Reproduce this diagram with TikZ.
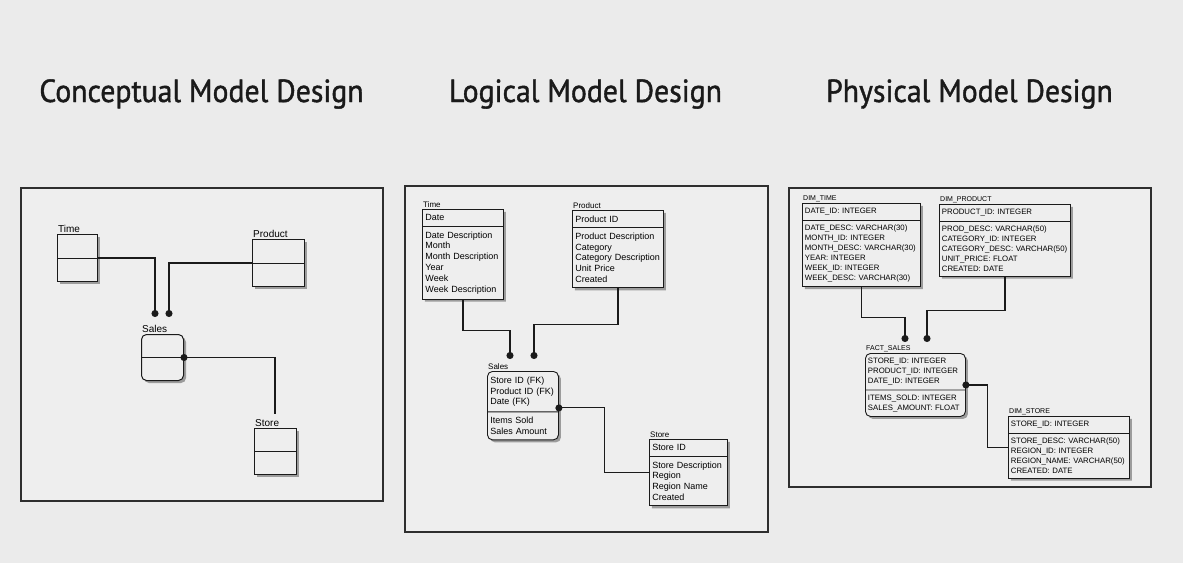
\documentclass[tikz,border=0pt]{standalone}
\usepackage{fontspec}
\setmainfont{Liberation Sans}
\newfontfamily\titlefont[FakeStretch=0.93,FakeBold=1.2]{PT Sans}
\usetikzlibrary{arrows.meta,calc,positioning,shapes.multipart,shadows}
\definecolor{pagegray}{HTML}{EBEBEB}
\definecolor{panelgray}{HTML}{EEEEEE}
\definecolor{framegray}{HTML}{2E2E2E}
\definecolor{shadowgray}{HTML}{9C9C9C}
\definecolor{inkblack}{HTML}{1A1A1A}
\tikzset{
  paneltitle/.style={font=\titlefont\fontsize{32}{34}\selectfont,text=inkblack,anchor=base},
  panel/.style={draw=framegray,line width=1.3pt,fill=panelgray},
  boxshadow/.style={drop shadow={shadow xshift=2.5pt,shadow yshift=-2.5pt,fill=shadowgray,opacity=1}},
  cbox/.style={draw=inkblack,line width=1pt,fill=panelgray,anchor=north west,inner sep=0pt,
    minimum width=40pt,minimum height=47pt,boxshadow},
  lbox/.style={rectangle split,rectangle split parts=2,draw=inkblack,line width=0.9pt,fill=panelgray,
    anchor=north west,align=left,inner xsep=3pt,inner ysep=4.8pt,
    font=\fontsize{9}{10.8}\selectfont,boxshadow},
  pbox/.style={lbox,inner xsep=2.5pt,inner ysep=4.3pt,font=\fontsize{7.8}{10}\selectfont},
  clabel/.style={anchor=south west,inner sep=1pt,font=\fontsize{10}{12}\selectfont},
  llabel/.style={anchor=south west,inner sep=1pt,font=\fontsize{8}{10}\selectfont},
  plabel/.style={anchor=south west,inner sep=1pt,font=\fontsize{7}{9}\selectfont},
  link/.style={draw=inkblack,line width=1.1pt},
  dotend/.style={link,-{Circle[length=7pt]}},
  dotstart/.style={link,{Circle[length=7pt]}-,shorten <=-3.5pt}
}
\begin{document}
\begin{tikzpicture}[x=1pt,y=-1pt]
\fill[pagegray] (0,0) rectangle (1183,563);
\useasboundingbox (0,0) rectangle (1183,563);

% headings
\node[paneltitle] (tconc) at (201.5,102) {Conceptual Model Design};
\node[paneltitle] (tlog) at (585.5,102) {Logical Model Design};
\node[paneltitle] (tphys) at (969.5,102) {Physical Model Design};

% frames
\draw[panel] (21,188) rectangle (383,501);
\draw[panel] (405,186) rectangle (768,532);
\draw[panel] (789,188) rectangle (1151,487);

% conceptual
\node[cbox,label={[clabel]north west:Time}] (ctime) at (57,234) {};
\node[cbox,minimum width=52pt,label={[clabel]north west:Product}] (cprod) at (252,239) {};
\node[cbox,rounded corners=5pt,minimum width=42pt,minimum height=46pt,label={[clabel]north west:Sales}] (csales) at (141,334) {};
\node[cbox,minimum width=42pt,minimum height=46pt,label={[clabel]north west:Store}] (cstore) at (254,428) {};
\foreach \e in {ctime,cprod,csales,cstore}
  \draw[link,line width=1pt] (\e.west) -- (\e.east);
\coordinate (cjt) at (155,317);
\coordinate (cjp) at (169,317);
\coordinate (cjs) at (275,414);
\draw[dotend] (ctime.east) -| (cjt);
\draw[dotend] (cprod.west) -| (cjp);
\draw[dotstart] (csales.east) -| (cjs);

% logical
\node[lbox,text width=75pt,label={[llabel]north west:Time}] (ltime) at (422,209)
  {Date\nodepart{two}Date Description\\Month\\Month Description\\Year\\Week\\Week Description};
\node[lbox,text width=85pt,label={[llabel]north west:Product}] (lprod) at (572,210)
  {Product ID\nodepart{two}Product Description\\Category\\Category Description\\Unit Price\\Created};
\node[lbox,text width=65pt,rounded corners=5pt,label={[llabel]north west:Sales}] (lsales) at (487,371)
  {Store ID (FK)\\Product ID (FK)\\Date (FK)\nodepart{two}Items Sold\\Sales Amount};
\node[lbox,text width=72pt,label={[llabel]north west:Store}] (lstore) at (649,439)
  {Store ID\nodepart{two}Store Description\\Region\\Region Name\\Created};
\coordinate (ljt) at (510,359);
\coordinate (ljp) at (534,359);
\draw[dotend] (ltime.south) -- ++(0,31) -| (ljt);
\draw[dotend] (lprod.south) -- ++(0,36) -| (ljp);
\draw[dotstart] ([yshift=4pt]lsales.text split east) -- ++(46,0) |- (lstore.west);

% physical
\node[pbox,text width=113pt,label={[plabel]north west:DIM\_TIME}] (ptime) at (802,203)
  {DATE\_ID: INTEGER\nodepart{two}DATE\_DESC: VARCHAR(30)\\MONTH\_ID: INTEGER\\MONTH\_DESC: VARCHAR(30)\\YEAR: INTEGER\\WEEK\_ID: INTEGER\\WEEK\_DESC: VARCHAR(30)};
\node[pbox,text width=126pt,label={[plabel]north west:DIM\_PRODUCT}] (pprod) at (939,204)
  {PRODUCT\_ID: INTEGER\nodepart{two}PROD\_DESC: VARCHAR(50)\\CATEGORY\_ID: INTEGER\\CATEGORY\_DESC: VARCHAR(50)\\UNIT\_PRICE: FLOAT\\CREATED: DATE};
\node[pbox,text width=95pt,rounded corners=5pt,label={[plabel]north west:FACT\_SALES}] (psales) at (865,353)
  {STORE\_ID: INTEGER\\PRODUCT\_ID: INTEGER\\DATE\_ID: INTEGER\nodepart{two}ITEMS\_SOLD: INTEGER\\SALES\_AMOUNT: FLOAT};
\node[pbox,text width=116pt,label={[plabel]north west:DIM\_STORE}] (pstore) at (1008,416)
  {STORE\_ID: INTEGER\nodepart{two}STORE\_DESC: VARCHAR(50)\\REGION\_ID: INTEGER\\REGION\_NAME: VARCHAR(50)\\CREATED: DATE};
\coordinate (pjt) at (905,342);
\coordinate (pjp) at (927,342);
\draw[dotend] (ptime.south) -- ++(0,30) -| (pjt);
\draw[dotend] (pprod.south) -- ++(0,34) -| (pjp);
\draw[dotstart] ([yshift=5pt]psales.text split east) -- ++(22,0) |- (pstore.west);
\end{tikzpicture}
\end{document}
